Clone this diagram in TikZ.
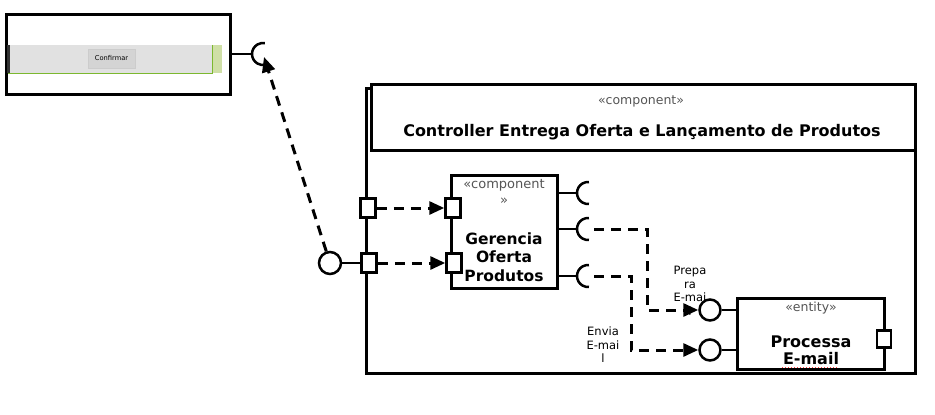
\documentclass[tikz,border=0pt]{standalone}
\usepackage{fontspec}
\setmainfont{DejaVu Sans}
\usetikzlibrary{arrows.meta}
\definecolor{barg}{HTML}{E1E1E1}
\definecolor{btng}{HTML}{D4D4D4}
\definecolor{lgreen}{HTML}{CFDFA6}
\definecolor{dgreen}{HTML}{7CB82F}
\definecolor{stg}{HTML}{555555}
\begin{document}
\begin{tikzpicture}[x=1pt,y=-1pt,
  box/.style={draw, line width=3pt, inner sep=0pt},
  portbox/.style={draw, fill=white, line width=2.5pt, minimum width=15pt, minimum height=19pt, inner sep=0pt},
  lolli/.style={circle, draw, fill=white, line width=2.5pt, minimum size=#1, inner sep=0pt},
  conn/.style={line width=2.5pt},
  dep/.style={line width=3pt, dash pattern=on 10pt off 7pt, -{Triangle[length=15pt,width=13pt]}},
  stereo/.style={text=stg, font=\fontsize{12.5}{15}\selectfont, align=center},
  title/.style={font=\fontsize{16}{20}\selectfont\bfseries, align=center},
  lbl/.style={font=\fontsize{11.5}{13.5}\selectfont, align=center}
]
\useasboundingbox (0,0) rectangle (935,415);

% ---- UI box ----
\node[box, minimum width=224pt, minimum height=80pt] (ui) at (118,54) {};
\fill[barg] (8,45) rectangle (222,73);
\fill[lgreen] (213,45) rectangle (222,73);
\draw[dgreen, line width=1pt] (8,73) -- (212,73) -- (212,45);
\fill[black!80] (7,45) rectangle (10,73);
\node[fill=btng, draw=gray!40, line width=0.8pt, minimum width=47pt, minimum height=19pt, inner sep=0pt, font=\fontsize{6.7}{8}\selectfont] (btn) at (111.5,58.5) {Confirmar};
\coordinate (s0) at (252,54);
\draw[conn] (ui.east) -- (s0);
\draw[conn] (s0) arc[start angle=180, end angle=80, radius=11];
\draw[conn] (s0) arc[start angle=180, end angle=280, radius=11];
\coordinate (tip0) at (264,57);

% ---- big component ----
\node[box, minimum width=549pt, minimum height=285pt] (big) at (640.5,230.5) {};
\node[box, fill=white, minimum width=544pt, minimum height=66pt] (head) at (643,117) {};
\node[stereo] (bst) at (641,101) {«component»};
\node[title] (btitle) at (642,132) {Controller Entrega Oferta e Lançamento de Produtos};

% ports on big box
\node[portbox] (p1) at (368,208) {};
\node[portbox] (p2) at (369,263) {};
\node[lolli=22pt] (L) at (330,263) {};
\draw[conn] (L) -- (p2);

% ---- inner component ----
\node[box, fill=white, minimum width=106pt, minimum height=113pt] (gop) at (504,231.5) {};
\node[stereo, font=\fontsize{13}{16}\selectfont] (gst) at (504,192) {«component\\»};
\node[title, font=\fontsize{15.5}{18.5}\selectfont\bfseries] (gt) at (504,257) {Gerencia\\Oferta\\Produtos};
\node[portbox] (q1) at (453,208) {};
\node[portbox] (q2) at (454,263) {};

% sockets on inner component
\foreach \n/\yy in {1/193,2/229,3/276}{
  \coordinate (k\n) at (577,\yy);
  \draw[conn] (557,\yy) -- (k\n);
  \draw[conn] (k\n) arc[start angle=180, end angle=85, radius=11];
  \draw[conn] (k\n) arc[start angle=180, end angle=275, radius=11];
}
\coordinate (d2) at (594,229);
\coordinate (d3) at (594,276);

% ---- entity ----
\node[box, fill=white, minimum width=147pt, minimum height=71pt] (ent) at (810.5,333.5) {};
\node[stereo] (est) at (811,308) {«entity»};
\node[title, font=\fontsize{16}{17}\selectfont\bfseries] (et) at (811,350) {Processa\\E-mail};
\draw[red!75, line width=1pt, dotted] (782,367) -- (838,367);
\node[portbox, minimum width=14pt, minimum height=17pt] (ep) at (884,339) {};
\node[lolli=21pt] (c1) at (710,310) {};
\node[lolli=21pt] (c2) at (710,350) {};
\draw[conn] (c1) -- (c1 -| ent.west);
\draw[conn] (c2) -- (c2 -| ent.west);

% ---- dependencies ----
\draw[dep] (L) -- (tip0);
\draw[dep] (p1.east) -- (q1.west);
\draw[dep] (p2.east) -- (q2.west);
\coordinate (b2) at (647,310);
\coordinate (b3) at (631,350);
\draw[dep] (d2) -| (b2) -- (c1.west);
\draw[dep] (d3) -| (b3) -- (c2.west);

% labels
\node[lbl] (lab1) at (690,291) {Prepa\\ra\\E-mai\\l};
\node[lbl] (lab2) at (603,345) {Envia\\E-mai\\l};
\end{tikzpicture}
\end{document}
